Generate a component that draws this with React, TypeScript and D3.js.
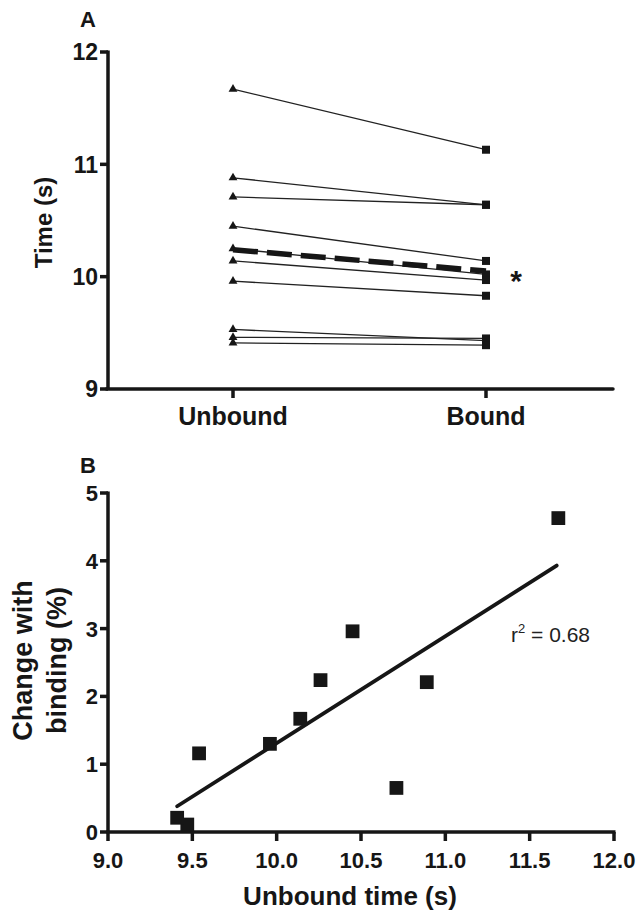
import React from "react";
import * as d3 from "d3";

const conditions = ["Unbound", "Bound"];
const unboundTimes = [11.67, 10.88, 10.71, 10.45, 10.25, 10.14, 9.96, 9.53, 9.46, 9.41];
const boundTimes = [11.13, 10.64, 10.64, 10.14, 10.02, 9.97, 9.83, 9.43, 9.45, 9.39];
const meanTimes = [10.24, 10.05];
const aTicks = [9, 10, 11, 12];

const scatterX = [11.67, 10.89, 10.71, 10.45, 10.26, 10.14, 9.96, 9.54, 9.47, 9.41];
const scatterY = [4.63, 2.21, 0.65, 2.96, 2.24, 1.67, 1.3, 1.16, 0.11, 0.21];
const fitX = [9.41, 11.66];
const fitY = [0.38, 3.93];
const bXTicks = [9.0, 9.5, 10.0, 10.5, 11.0, 11.5, 12.0];
const bYTicks = [0, 1, 2, 3, 4, 5];

const FONT = "'Liberation Sans', Arial, sans-serif";
const INK = "#161616";

export default function App() {
  const ax = 108;
  const yA = d3.scaleLinear().domain([9, 12]).range([389, 52]);
  const xA = d3.scalePoint<string>().domain(conditions).range([233, 486]);
  const xB = d3.scaleLinear().domain([9, 12]).range([108, 614]);
  const yB = d3.scaleLinear().domain([0, 5]).range([832, 493]);
  const tri = d3.symbol().type(d3.symbolTriangle).size(34)();
  const sq = d3.symbol().type(d3.symbolSquare).size(64)();
  const sqB = d3.symbol().type(d3.symbolSquare).size(190)();
  const line = d3.line<[number, number]>().x((d) => d[0]).y((d) => d[1]);
  const aw = 3.5;

  return (
    <svg width={641} height={916} style={{ position: "absolute", left: 0, top: 0, background: "#fff" }} fontFamily={FONT} fill={INK}>
      {/* Panel A */}
      <text x={88} y={27} fontSize={22} fontWeight="bold" textAnchor="middle">A</text>
      <text transform={`translate(52,${yA(10.5) + 2}) rotate(-90)`} fontSize={24} fontWeight="bold" textAnchor="middle">Time (s)</text>
      <line x1={ax} x2={ax} y1={yA(12) - 1.5} y2={yA(9)} stroke={INK} strokeWidth={aw} />
      <line x1={ax - 1.5} x2={613} y1={yA(9)} y2={yA(9)} stroke={INK} strokeWidth={aw} strokeLinecap="round" />
      {aTicks.map((t) => (
        <g key={t}>
          <line x1={ax - 8} x2={ax} y1={yA(t)} y2={yA(t)} stroke={INK} strokeWidth={aw} />
          <text x={ax - 10} y={yA(t)} dy="0.36em" fontSize={23} fontWeight="bold" textAnchor="end">{t}</text>
        </g>
      ))}
      {conditions.map((c) => (
        <g key={c}>
          <line x1={xA(c)} x2={xA(c)} y1={yA(9)} y2={yA(9) + 9} stroke={INK} strokeWidth={aw} />
          <text x={xA(c)} y={425} fontSize={25} fontWeight="bold" textAnchor="middle">{c}</text>
        </g>
      ))}
      {unboundTimes.map((u, i) => (
        <g key={i}>
          <path d={line([[xA("Unbound")!, yA(u)], [xA("Bound")!, yA(boundTimes[i])]]) || ""} stroke="#222" strokeWidth={1.3} fill="none" />
          <path d={tri || ""} transform={`translate(${xA("Unbound")},${yA(u)})`} fill={INK} />
          <path d={sq || ""} transform={`translate(${xA("Bound")},${yA(boundTimes[i])})`} fill={INK} />
        </g>
      ))}
      <path d={line([[xA("Unbound")!, yA(meanTimes[0])], [xA("Bound")!, yA(meanTimes[1])]]) || ""} stroke={INK} strokeWidth={5.5} strokeDasharray="25,9" fill="none" />
      <text x={516} y={yA(meanTimes[1]) + 20} fontSize={30} fontWeight="bold" textAnchor="middle">*</text>

      {/* Panel B */}
      <text x={88} y={473} fontSize={22} fontWeight="bold" textAnchor="middle">B</text>
      <text transform={`translate(32,${yB(2.5) - 2}) rotate(-90)`} fontSize={27} fontWeight="bold" textAnchor="middle">Change with</text>
      <text transform={`translate(66,${yB(2.5) - 2}) rotate(-90)`} fontSize={27} fontWeight="bold" textAnchor="middle">binding (%)</text>
      <line x1={ax} x2={ax} y1={yB(5) - 1.5} y2={yB(0)} stroke={INK} strokeWidth={aw} />
      <line x1={ax - 1.5} x2={xB(12) + 1.5} y1={yB(0)} y2={yB(0)} stroke={INK} strokeWidth={aw} />
      {bYTicks.map((t) => (
        <g key={t}>
          <line x1={ax - 8} x2={ax} y1={yB(t)} y2={yB(t)} stroke={INK} strokeWidth={aw} />
          <text x={ax - 10} y={yB(t)} dy="0.36em" fontSize={22} fontWeight="bold" textAnchor="end">{t}</text>
        </g>
      ))}
      {bXTicks.map((t) => (
        <g key={t}>
          <line x1={xB(t)} x2={xB(t)} y1={yB(0)} y2={yB(0) + 9} stroke={INK} strokeWidth={aw} />
          <text x={xB(t)} y={868} fontSize={22} fontWeight="bold" textAnchor="middle">{t.toFixed(1)}</text>
        </g>
      ))}
      <text x={350} y={905} fontSize={26} fontWeight="bold" textAnchor="middle">Unbound time (s)</text>
      <path d={line([[xB(fitX[0]), yB(fitY[0])], [xB(fitX[1]), yB(fitY[1])]]) || ""} stroke={INK} strokeWidth={3.8} strokeLinecap="round" fill="none" />
      {scatterX.map((x, i) => (
        <path key={i} d={sqB || ""} transform={`translate(${xB(x)},${yB(scatterY[i])})`} fill={INK} />
      ))}
      <text x={511} y={642} fontSize={21} textAnchor="start" fill="#222">
        r<tspan dy={-9} fontSize={13}>2</tspan><tspan dy={9}> = 0.68</tspan>
      </text>
    </svg>
  );
}
